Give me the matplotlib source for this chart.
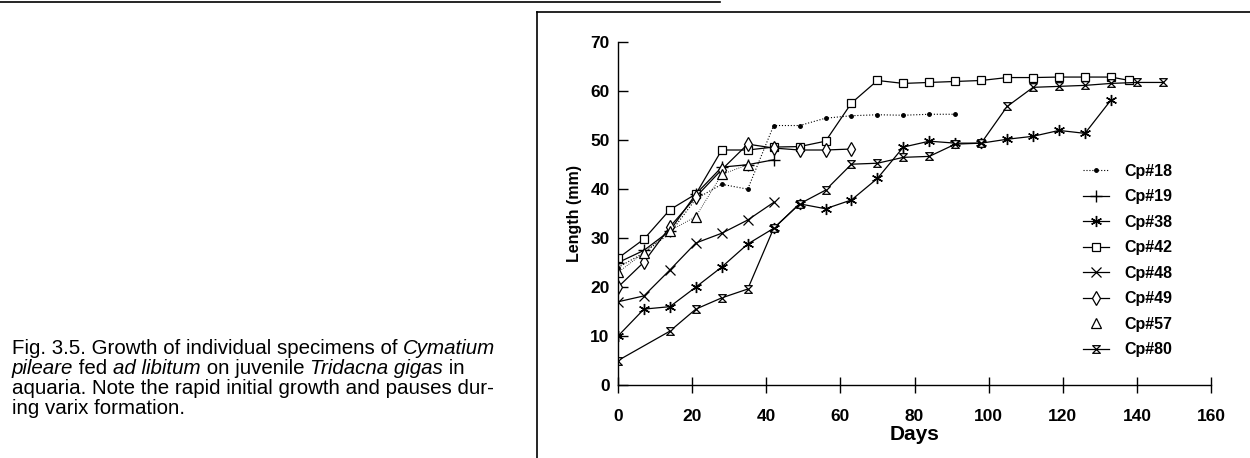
import matplotlib
matplotlib.use("Agg")
import matplotlib.pyplot as plt
from matplotlib.path import Path
from matplotlib.lines import Line2D

# -------------------------
# dados
# -------------------------
dias_18 = [0, 7, 14, 21, 28, 35, 42, 49, 56, 63, 70, 77, 84, 91]
cp18 = [24, 27, 31, 38, 41, 40, 53, 53, 54.5, 55, 55.2, 55.1, 55.3, 55.3]

dias_19 = [0, 7, 14, 21, 28, 35, 42]
cp19 = [25, 27.5, 31.5, 39, 44.5, 45, 46]

dias_38 = [0, 7, 14, 21, 28, 35, 42, 49, 56, 63, 70, 77, 84, 91, 98, 105, 112, 119, 126, 133]
cp38 = [10, 15.5, 16, 20, 24.1, 28.8, 32, 37, 36, 37.8, 42.2, 48.6, 49.8, 49.4, 49.4, 50.2, 50.8, 52, 51.4, 58.2]

dias_42 = [0, 7, 14, 21, 28, 35, 42, 49, 56, 63, 70, 77, 84, 91, 98, 105, 112, 119, 126, 133, 138]
cp42 = [25.9, 29.8, 35.8, 39, 48, 48, 48.6, 48.7, 49.8, 57.6, 62.2, 61.6, 61.8, 62, 62.2, 62.8, 62.8, 62.9, 62.9, 62.9, 62.2]

dias_48 = [0, 7, 14, 21, 28, 35, 42]
cp48 = [17, 18.2, 23.5, 29, 31, 33.7, 37.3]

dias_49 = [0, 7, 14, 21, 28, 35, 42, 49, 56, 63]
cp49 = [20, 25.1, 32.3, 38.4, 44, 49.2, 48.4, 48, 48, 48.2]

dias_57 = [0, 7, 14, 21, 28, 35]
cp57 = [23, 27, 31.5, 34.4, 43, 45]

dias_80 = [0, 14, 21, 28, 35, 42, 49, 56, 63, 70, 77, 84, 91, 98, 105, 112, 119, 126, 133, 140, 147]
cp80 = [5, 11, 15.5, 17.8, 19.6, 32, 37, 39.8, 45.1, 45.3, 46.5, 46.7, 49.2, 49.4, 56.9, 60.8, 61, 61.2, 61.6, 61.8, 61.8]

ticks_x = [0, 20, 40, 60, 80, 100, 120, 140, 160]
ticks_y = [0, 10, 20, 30, 40, 50, 60, 70]

# legenda da figura: (texto, italico?) por linha
linhas_legenda = [
    [("Fig. 3.5. Growth of individual specimens of ", False), ("Cymatium", True)],
    [("pileare", True), (" fed ", False), ("ad libitum", True), (" on juvenile ", False),
     ("Tridacna gigas", True), (" in", False)],
    [("aquaria. Note the rapid initial growth and pauses dur-", False)],
    [("ing varix formation.", False)],
]

plt.rcParams["font.family"] = ["Liberation Sans", "DejaVu Sans"]

# marcadores especiais
asterisco = (6, 2, 0)
ampulheta = Path([(-1, 1), (1, 1), (-1, -1), (1, -1), (-1, 1)],
                 [Path.MOVETO, Path.LINETO, Path.LINETO, Path.LINETO, Path.CLOSEPOLY])

fig = plt.figure(figsize=(12.5, 4.58), dpi=100)
ax = fig.add_axes([618 / 1250, 73 / 458, 593 / 1250, 342.7 / 458])

lw = 0.9
ax.plot(dias_18, cp18, color="black", ls=":", lw=0.8, marker="o", ms=2.5, label="Cp#18")
ax.plot(dias_19, cp19, color="black", lw=lw, marker="+", ms=9, mew=1, label="Cp#19")
ax.plot(dias_38, cp38, color="black", lw=lw, marker=asterisco, ms=8, mew=1, label="Cp#38")
ax.plot(dias_42, cp42, color="black", lw=lw, marker="s", ms=6.2, mfc="white", mew=0.9, label="Cp#42")
ax.plot(dias_48, cp48, color="black", lw=lw, marker="x", ms=7, mew=0.9, label="Cp#48")
ax.plot(dias_49, cp49, color="black", lw=lw, marker="d", ms=7, mfc="white", mew=0.9, label="Cp#49")
ax.plot(dias_57, cp57, color="black", lw=0.6, ls=":")
ax.plot(dias_57, cp57, color="black", ls="none", marker="^", ms=7.5, mfc="white", mew=0.9, label="Cp#57")
ax.plot(dias_80, cp80, color="black", lw=lw, marker=ampulheta, ms=5.5, mfc="white", mew=0.9, label="Cp#80")

ax.set_xlim(0, 160)
ax.set_ylim(0, 70)
ax.set_xticks(ticks_x)
ax.set_yticks(ticks_y)
ax.spines["top"].set_visible(False)
ax.spines["right"].set_visible(False)
ax.spines["left"].set_linewidth(1)
ax.spines["bottom"].set_linewidth(1)
ax.tick_params(axis="x", direction="inout", length=12, width=1, pad=11, labelsize=12.5)
ax.tick_params(axis="y", direction="in", length=7, width=1, pad=6, labelsize=12.5)
for t in ax.get_xticklabels() + ax.get_yticklabels():
    t.set_fontweight("bold")
ax.set_xlabel("Days", fontsize=15, fontweight="bold", labelpad=1)
ax.set_ylabel("Length (mm)", fontsize=11.5, fontweight="bold", labelpad=6)

ax.legend(loc="upper left", bbox_to_anchor=(0.76, 0.688), frameon=False,
          handlelength=1.6, handletextpad=1.0, labelspacing=0.66,
          prop={"weight": "bold", "size": 11.5})

# moldura da figura
fig.add_artist(Line2D([537 / 1250, 537 / 1250], [0, 446 / 458], color="black", lw=1.2))
fig.add_artist(Line2D([537 / 1250, 1], [446 / 458, 446 / 458], color="black", lw=1.2))
fig.add_artist(Line2D([0, 720 / 1250], [456 / 458, 456 / 458], color="black", lw=1.2))

# legenda: cada trecho posicionado pela largura medida do anterior
renderer = fig.canvas.get_renderer()
tam = 14.8


def largura(s, italico):
    # mede com "|" no fim para contar os espacos finais
    estilo = "italic" if italico else "normal"
    t1 = fig.text(0, 0, s + "|", fontsize=tam, style=estilo)
    t2 = fig.text(0, 0, "|", fontsize=tam, style=estilo)
    w = t1.get_window_extent(renderer).width - t2.get_window_extent(renderer).width
    t1.remove()
    t2.remove()
    return w


for i, partes in enumerate(linhas_legenda):
    x_px = 12
    y_px = 458 - 354 - i * 20
    for s, italico in partes:
        fig.text(x_px / 1250, y_px / 458, s, fontsize=tam, va="baseline", ha="left",
                 style="italic" if italico else "normal")
        x_px += largura(s, italico)

fig.savefig("out.png", dpi=100)
